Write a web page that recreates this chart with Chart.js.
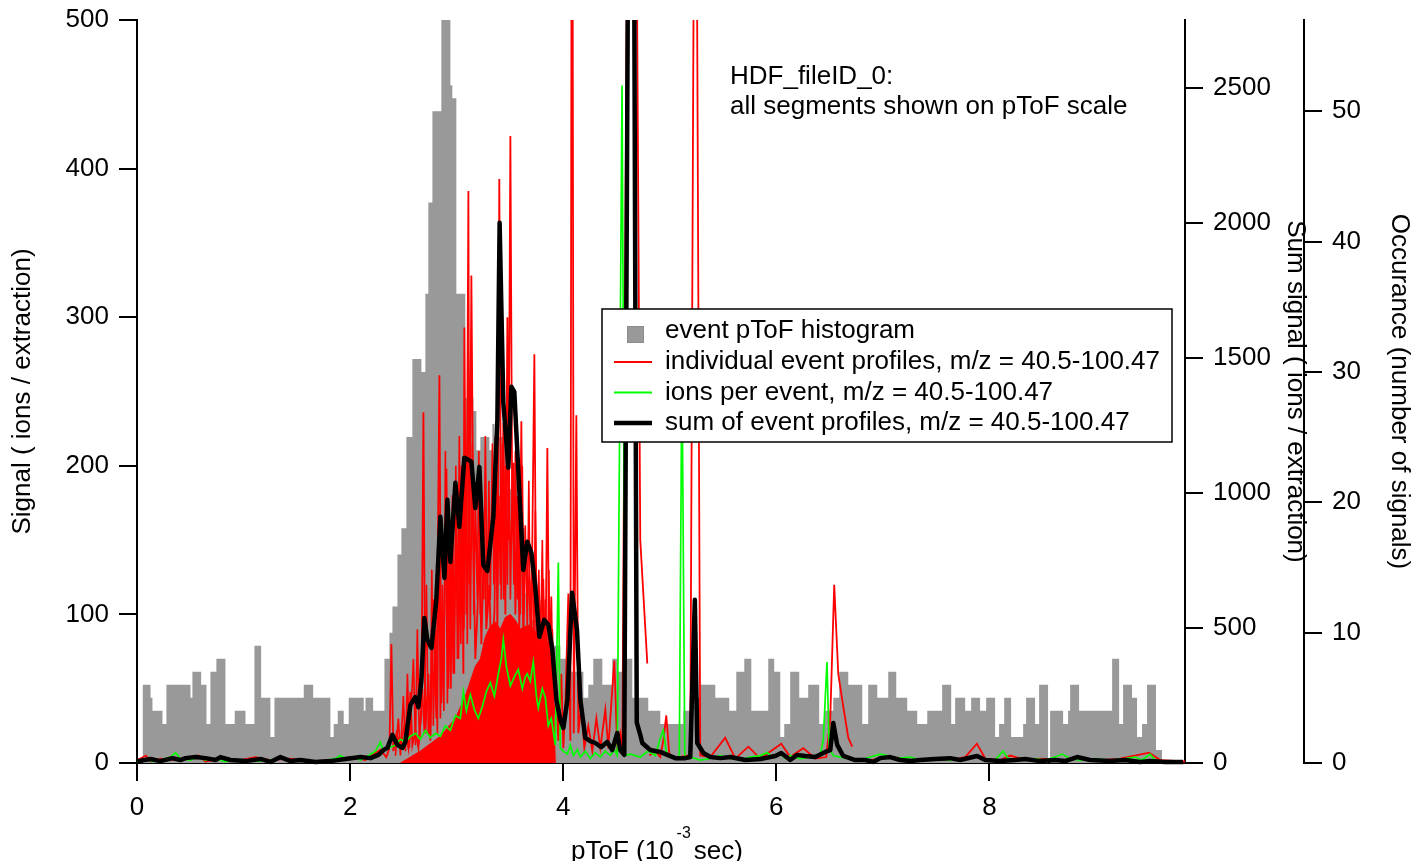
<!DOCTYPE html>
<html><head><meta charset="utf-8">
<script src="https://cdn.jsdelivr.net/npm/chart.js@4.4.0/dist/chart.umd.min.js"></script>
<style>html,body{margin:0;padding:0;background:#fff;}canvas{display:block;}</style>
</head><body>
<canvas id="c" width="1412" height="861"></canvas>
<script>
const FONT = "'Liberation Sans', Arial, Helvetica, sans-serif";

const xTicks = [0, 2, 4, 6, 8];
const signalTicks = [0, 100, 200, 300, 400, 500];
const sumTicks = [0, 500, 1000, 1500, 2000, 2500];
const occTicks = [0, 10, 20, 30, 40, 50];

const titleLines = ["HDF_fileID_0:", "all segments shown on pToF scale"];
const legendLabels = [
  "event pToF histogram",
  "individual event profiles, m/z = 40.5-100.47",
  "ions per event, m/z = 40.5-100.47",
  "sum of event profiles, m/z = 40.5-100.47"
];

// histogram: [left bin edge (ms), occurrence count]
const histogramBins = [[0.052,6],[0.127,5],[0.145,4],[0.239,3],[0.276,6],[0.502,5],[0.520,7],[0.602,6],[0.652,3],[0.689,7],[0.745,8],[0.830,3],[0.917,4],[1.018,3],[1.102,9],[1.165,5],[1.252,2],[1.290,5],[1.565,6],[1.653,5],[1.815,2],[1.846,3],[1.884,4],[1.940,3],[1.987,5],[2.128,4],[2.144,5],[2.216,4],[2.322,8],[2.369,10],[2.397,12],[2.444,16],[2.481,18],[2.528,25],[2.584,31],[2.669,30],[2.706,36],[2.734,43],[2.772,50],[2.856,57],[2.941,52],[2.959,51],[2.997,36],[3.081,28],[3.157,27],[3.185,24],[3.222,25],[3.307,24],[3.335,26],[3.354,25],[3.463,21],[3.510,23],[3.567,18],[3.644,13],[3.691,11],[3.785,10],[3.907,9],[3.973,8],[4.057,7],[4.189,5],[4.235,6],[4.282,8],[4.367,6],[4.460,8],[4.507,7],[4.564,8],[4.648,5],[4.798,4],[4.911,3],[5.127,4],[5.192,5],[5.286,6],[5.427,5],[5.558,4],[5.624,7],[5.699,8],[5.765,4],[5.924,8],[5.980,7],[6.037,2],[6.074,3],[6.130,7],[6.215,5],[6.299,6],[6.402,3],[6.449,4],[6.534,5],[6.590,7],[6.675,6],[6.806,3],[6.862,6],[6.947,5],[7.050,7],[7.125,5],[7.228,4],[7.322,3],[7.416,4],[7.556,6],[7.641,3],[7.678,5],[7.772,4],[7.828,5],[7.912,4],[7.969,5],[8.053,2],[8.090,3],[8.138,5],[8.203,2],[8.316,3],[8.344,5],[8.428,3],[8.466,6],[8.550,0],[8.569,4],[8.691,3],[8.738,4],[8.757,6],[8.841,4],[9.151,8],[9.217,3],[9.254,6],[9.338,5],[9.385,2],[9.432,3],[9.479,6],[9.563,1],[9.619,0]];

// dense overlap of many individual event profiles (Signal axis)
const eventProfileBulk = [[2.472,0],[2.659,8],[2.847,18],[2.988,30],[3.081,45],[3.175,65],[3.222,70],[3.269,85],[3.316,92],[3.363,95],[3.410,90],[3.457,98],[3.504,100],[3.551,96],[3.597,90],[3.644,92],[3.691,93],[3.738,88],[3.785,80],[3.832,82],[3.888,75],[3.907,40],[3.926,0]];

// individual event profiles (Signal axis), null = gap between traces
const eventProfiles = [[0.005,2],[0.084,5],[0.127,1],[0.220,3],[0.361,2],[0.502,4],[0.577,5],[0.643,1],[0.783,3],[0.971,2],[1.112,4],[1.252,2],[1.440,3],[1.628,1],[1.815,2],[2.003,4],[2.144,2],[2.284,9],[2.340,4],[2.369,10],[2.387,80],[2.406,8],[2.435,20],[2.472,10],[2.509,25],[2.547,10],[2.566,48],[2.584,12],[2.613,22],[2.641,10],[2.669,34],[2.688,236],[2.706,20],[2.734,60],[2.753,15],[2.781,110],[2.809,30],[2.838,261],[2.856,40],[2.885,100],[2.904,198],[2.922,50],[2.950,140],[2.969,60],[2.997,160],[3.016,70],[3.044,200],[3.063,60],[3.072,293],[3.091,100],[3.110,385],[3.119,120],[3.138,328],[3.157,145],[3.175,70],[3.194,100],[3.213,143],[3.232,80],[3.260,160],[3.278,90],[3.307,120],[3.325,70],[3.354,101],[3.373,190],[3.382,80],[3.400,393],[3.419,110],[3.438,229],[3.457,100],[3.476,300],[3.485,150],[3.504,422],[3.522,160],[3.532,202],[3.551,100],[3.569,180],[3.588,90],[3.607,230],[3.625,80],[3.644,150],[3.672,120],[3.701,90],[3.729,275],[3.748,70],[3.776,110],[3.795,60],[3.813,124],[3.832,50],[3.851,212],[3.870,50],[3.888,112],[3.907,30],[3.935,45],[3.954,15],[3.982,60],[4.001,10],[4.020,40],[4.048,114],[4.067,15],[4.083,800],[4.099,20],[4.123,234],[4.142,20],[4.170,40],[4.198,10],[4.235,25],[4.273,8],[4.311,30],[4.348,10],[4.395,36],[4.423,10],[4.451,40],[4.479,69],[4.507,10],[4.535,20],[4.555,10],[4.644,1100],[4.723,150],[4.789,67],[4.800,null],[4.808,5],[4.864,8],[4.911,4],[4.939,15],[4.967,32],[4.995,6],[5.052,3],[5.146,5],[5.192,5],[5.240,790],[5.286,5],[5.380,4],[5.520,17],[5.615,3],[5.737,11],[5.849,3],[6.046,13],[6.130,4],[6.252,10],[6.365,3],[6.468,4],[6.506,30],[6.543,120],[6.581,60],[6.628,38],[6.675,17],[6.712,11],[6.717,null],[6.722,3],[6.881,2],[7.068,4],[7.256,2],[7.443,3],[7.631,2],[7.772,4],[7.882,13],[7.960,3],[8.100,2],[8.194,5],[8.335,2],[8.476,3],[8.663,2],[8.851,3],[9.039,2],[9.226,3],[9.498,7],[9.601,2],[9.836,1]];

// further overlapping event profiles in the dense region (Signal axis)
const eventProfiles2 = [[2.425,5],[2.453,30],[2.472,5],[2.500,45],[2.519,8],[2.538,60],[2.556,10],[2.594,70],[2.613,12],[2.631,90],[2.650,15],[2.678,50],[2.697,20],[2.716,120],[2.734,20],[2.753,20],[2.767,130],[2.781,25],[2.800,90],[2.819,20],[2.833,170],[2.847,30],[2.866,120],[2.880,35],[2.894,210],[2.913,40],[2.931,150],[2.946,50],[2.960,180],[2.978,60],[2.992,200],[3.007,70],[3.025,220],[3.039,80],[3.053,180],[3.068,90],[3.082,220],[3.100,80],[3.114,200],[3.128,90],[3.147,215],[3.161,100],[3.175,180],[3.194,110],[3.208,210],[3.222,100],[3.241,170],[3.255,110],[3.269,220],[3.288,100],[3.302,190],[3.316,110],[3.335,215],[3.349,120],[3.363,220],[3.382,110],[3.396,180],[3.410,120],[3.429,215],[3.443,110],[3.457,200],[3.476,120],[3.490,220],[3.504,110],[3.522,190],[3.537,120],[3.551,210],[3.569,110],[3.584,170],[3.597,100],[3.616,200],[3.630,100],[3.644,160],[3.663,90],[3.677,190],[3.691,90],[3.710,140],[3.724,80],[3.738,170],[3.757,80],[3.771,130],[3.785,70],[3.804,150],[3.818,60],[3.832,110],[3.851,50],[3.865,130],[3.879,40],[3.898,90],[3.912,10]];

// ions per event (Signal axis)
const ionsPerEvent = [[0.005,1],[0.080,3],[0.145,1],[0.220,2],[0.314,4],[0.361,7],[0.408,3],[0.502,2],[0.577,4],[0.643,2],[0.737,3],[0.830,1],[0.971,2],[1.112,1],[1.252,2],[1.346,3],[1.440,1],[1.581,2],[1.721,1],[1.862,3],[1.909,5],[1.956,3],[2.021,4],[2.097,2],[2.172,5],[2.237,8],[2.284,14],[2.312,8],[2.359,10],[2.425,12],[2.472,16],[2.519,14],[2.566,18],[2.613,20],[2.659,16],[2.706,22],[2.753,17],[2.800,20],[2.847,18],[2.894,25],[2.941,22],[2.988,32],[3.034,30],[3.063,48],[3.091,35],[3.128,46],[3.166,36],[3.203,30],[3.241,38],[3.278,48],[3.316,54],[3.354,45],[3.391,60],[3.419,70],[3.438,83],[3.466,65],[3.504,52],[3.541,58],[3.578,63],[3.616,50],[3.644,58],[3.663,60],[3.691,55],[3.719,68],[3.748,45],[3.766,37],[3.804,50],[3.832,44],[3.860,25],[3.888,30],[3.907,21],[3.926,12],[3.954,135],[3.973,10],[4.001,8],[4.039,6],[4.067,12],[4.095,5],[4.133,9],[4.161,4],[4.207,8],[4.254,3],[4.301,7],[4.348,4],[4.395,8],[4.442,5],[4.479,9],[4.507,5],[4.552,456],[4.583,5],[4.629,6],[4.723,4],[4.798,8],[4.864,5],[4.911,17],[4.939,22],[4.967,8],[5.005,4],[5.052,3],[5.089,3],[5.114,270],[5.141,3],[5.192,4],[5.286,2],[5.380,3],[5.474,5],[5.568,3],[5.661,2],[5.755,4],[5.849,5],[5.915,7],[5.962,4],[6.037,6],[6.084,3],[6.130,5],[6.224,3],[6.318,4],[6.412,6],[6.440,15],[6.475,68],[6.496,10],[6.534,5],[6.599,4],[6.693,3],[6.787,2],[6.881,4],[6.975,6],[7.040,5],[7.115,3],[7.256,4],[7.350,2],[7.490,3],[7.631,2],[7.772,3],[7.866,5],[7.960,3],[8.053,2],[8.128,8],[8.175,3],[8.288,2],[8.428,3],[8.522,2],[8.616,4],[8.682,6],[8.757,3],[8.851,2],[8.991,3],[9.132,2],[9.273,3],[9.367,4],[9.432,2],[9.507,6],[9.554,2],[9.648,1]];

// sum of event profiles (Sum signal axis)
const sumProfile = [[0.005,7],[0.127,15],[0.220,7],[0.333,18],[0.408,11],[0.455,18],[0.549,22],[0.643,18],[0.737,11],[0.783,22],[0.877,11],[1.018,7],[1.158,15],[1.252,4],[1.346,22],[1.440,7],[1.534,11],[1.675,4],[1.815,7],[1.956,15],[2.097,22],[2.191,18],[2.266,30],[2.313,48],[2.350,56],[2.397,104],[2.444,67],[2.491,56],[2.519,78],[2.566,215],[2.613,244],[2.641,207],[2.669,307],[2.697,537],[2.725,456],[2.763,426],[2.809,604],[2.847,911],[2.885,685],[2.913,974],[2.941,744],[2.988,1037],[3.025,874],[3.072,1130],[3.110,1122],[3.138,1115],[3.175,944],[3.213,1096],[3.250,733],[3.288,711],[3.344,911],[3.382,1270],[3.403,2000],[3.438,1333],[3.485,1093],[3.513,1393],[3.541,1374],[3.578,1085],[3.625,715],[3.663,819],[3.701,778],[3.738,652],[3.776,467],[3.822,530],[3.860,511],[3.898,419],[3.936,233],[3.973,159],[4.001,130],[4.039,233],[4.083,630],[4.129,493],[4.161,233],[4.207,93],[4.254,81],[4.301,74],[4.357,59],[4.413,78],[4.460,48],[4.507,111],[4.535,48],[4.573,30],[4.641,5800],[4.690,150],[4.723,104],[4.742,74],[4.817,48],[4.911,41],[4.977,30],[5.052,18],[5.146,18],[5.192,22],[5.235,604],[5.258,74],[5.315,37],[5.380,22],[5.474,18],[5.568,22],[5.709,11],[5.849,15],[5.990,26],[6.046,37],[6.130,11],[6.196,30],[6.271,26],[6.365,22],[6.459,41],[6.506,48],[6.534,148],[6.571,67],[6.628,26],[6.740,11],[6.834,11],[6.909,4],[6.975,18],[7.068,22],[7.162,11],[7.256,7],[7.350,11],[7.490,15],[7.631,18],[7.725,11],[7.884,26],[7.960,11],[8.100,7],[8.241,11],[8.335,15],[8.476,7],[8.616,11],[8.710,7],[8.822,22],[8.945,11],[9.132,7],[9.273,11],[9.414,4],[9.507,7],[9.648,4],[9.817,4]];

const toXY = arr => arr.map(p => ({x: p[0], y: p[1]}));

const tickFont = {size: 26, family: FONT};
function axisCommon(ticksArr, extra) {
  return Object.assign({
    type: 'linear',
    afterBuildTicks: s => { s.ticks = ticksArr.map(v => ({value: v})); },
    ticks: {font: tickFont, color: '#000', padding: 10, maxRotation: 0, autoSkip: false, callback: v => String(v)},
    grid: {display: true, drawOnChartArea: false, drawTicks: true, tickLength: 18, color: '#000', lineWidth: 2},
    border: {display: true, color: '#000', width: 2},
    z: 1
  }, extra);
}
function fitV(w) { return s => { s.width = w; s.paddingTop = 0; s.paddingBottom = 0; }; }

const overlay = {
  id: 'overlay',
  afterDraw(chart) {
    const ctx = chart.ctx;
    ctx.save();
    ctx.fillStyle = '#000';
    ctx.textAlign = 'left';
    ctx.textBaseline = 'alphabetic';
    ctx.font = '26px ' + FONT;
    ctx.fillText(titleLines[0], 730, 84);
    ctx.fillText(titleLines[1], 730, 114);

    // legend
    const bx = 602, by = 309, bw = 570, bh = 133;
    ctx.fillStyle = '#fff';
    ctx.fillRect(bx, by, bw, bh);
    ctx.strokeStyle = '#000';
    ctx.lineWidth = 1.5;
    ctx.strokeRect(bx, by, bw, bh);
    const baselines = [338, 369, 399.5, 430];
    ctx.fillStyle = '#999999';
    ctx.fillRect(627, 326, 17, 17);
    ctx.strokeStyle = '#8c8c8c';
    ctx.lineWidth = 1;
    ctx.strokeRect(627.5, 326.5, 16, 16);
    const lineStyles = [null, ['#ff0000', 2], ['#00ff00', 2], ['#000000', 4.5]];
    for (let i = 1; i < 4; i++) {
      const yy = baselines[i] - 7;
      ctx.strokeStyle = lineStyles[i][0];
      ctx.lineWidth = lineStyles[i][1];
      ctx.beginPath();
      ctx.moveTo(614, yy);
      ctx.lineTo(652, yy);
      ctx.stroke();
    }
    ctx.fillStyle = '#000';
    ctx.font = '26px ' + FONT;
    for (let i = 0; i < 4; i++) ctx.fillText(legendLabels[i], 665, baselines[i]);

    // x axis title with superscript
    const x0 = 571, yb = 859;
    ctx.font = '26px ' + FONT;
    const p1 = 'pToF (10';
    ctx.fillText(p1, x0, yb);
    const w1 = ctx.measureText(p1).width;
    ctx.font = '16px ' + FONT;
    const sup = '-3';
    ctx.fillText(sup, x0 + w1 + 3, yb - 21);
    const ws = ctx.measureText(sup).width;
    ctx.font = '26px ' + FONT;
    ctx.fillText('sec)', x0 + w1 + 3 + ws + 3, yb);
    ctx.restore();
  }
};

const thinClip = {left: 0, top: 0, right: 0, bottom: 2};
new Chart(document.getElementById('c'), {
  type: 'line',
  data: {
    datasets: [
      {label: 'sum', data: toXY(sumProfile), yAxisID: 'sum', borderColor: '#000', borderWidth: 4.5, borderJoinStyle: 'round', pointRadius: 0, fill: false, order: 0, clip: {left: 0, top: 0, right: 0, bottom: 4}},
      {label: 'ions', data: toXY(ionsPerEvent), yAxisID: 'y', borderColor: '#00ff00', borderWidth: 1.7, pointRadius: 0, fill: false, order: 1, clip: thinClip},
      {label: 'profiles', data: toXY(eventProfiles), yAxisID: 'y', borderColor: '#ff0000', borderWidth: 1.8, pointRadius: 0, fill: false, spanGaps: false, order: 2, clip: thinClip},
      {label: 'profiles2', data: toXY(eventProfiles2), yAxisID: 'y', borderColor: '#ff0000', borderWidth: 1.6, pointRadius: 0, fill: false, order: 3, clip: thinClip},
      {label: 'bulk', data: toXY(eventProfileBulk), yAxisID: 'y', borderColor: '#ff0000', backgroundColor: '#ff0000', borderWidth: 1, pointRadius: 0, fill: 'origin', order: 4},
      {label: 'hist', data: toXY(histogramBins), yAxisID: 'occ', stepped: 'before', borderColor: 'rgba(0,0,0,0)', backgroundColor: '#999999', borderWidth: 1, pointRadius: 0, fill: 'origin', order: 5}
    ]
  },
  options: {
    responsive: false,
    maintainAspectRatio: false,
    devicePixelRatio: 1,
    animation: false,
    events: [],
    layout: {padding: {top: 20, left: 0, right: 0, bottom: 0}},
    plugins: {legend: {display: false}, tooltip: {enabled: false}},
    elements: {line: {tension: 0}},
    scales: {
      x: axisCommon(xTicks, {position: 'bottom', min: 0, max: 9.835,
        afterFit: s => { s.height = 98; s.paddingLeft = 0; s.paddingRight = 0; },
        ticks: {font: tickFont, color: '#000', padding: 11, maxRotation: 0, autoSkip: false, callback: v => String(v)}}),
      y: axisCommon(signalTicks, {position: 'left', min: 0, max: 500, afterFit: fitV(137),
        title: {display: true, text: 'Signal ( ions / extraction)', color: '#000', font: {size: 26, family: FONT, lineHeight: 1.2}, padding: {top: 7, bottom: 0}}}),
      sum: axisCommon(sumTicks, {position: 'right', weight: 0, min: 0, max: 2750, afterFit: fitV(119),
        title: {display: true, text: 'Sum signal ( ions / extraction)', color: '#000', font: {size: 26, family: FONT, lineHeight: 1.2}, padding: {top: -6.6, bottom: 0}}}),
      occ: axisCommon(occTicks, {position: 'right', weight: 1, min: 0, max: 57, afterFit: fitV(108),
        title: {display: true, text: 'Occurance (number of signals)', color: '#000', font: {size: 26, family: FONT, lineHeight: 1.2}, padding: {top: -3, bottom: 0}}})
    }
  },
  plugins: [overlay]
});
</script>
</body></html>
